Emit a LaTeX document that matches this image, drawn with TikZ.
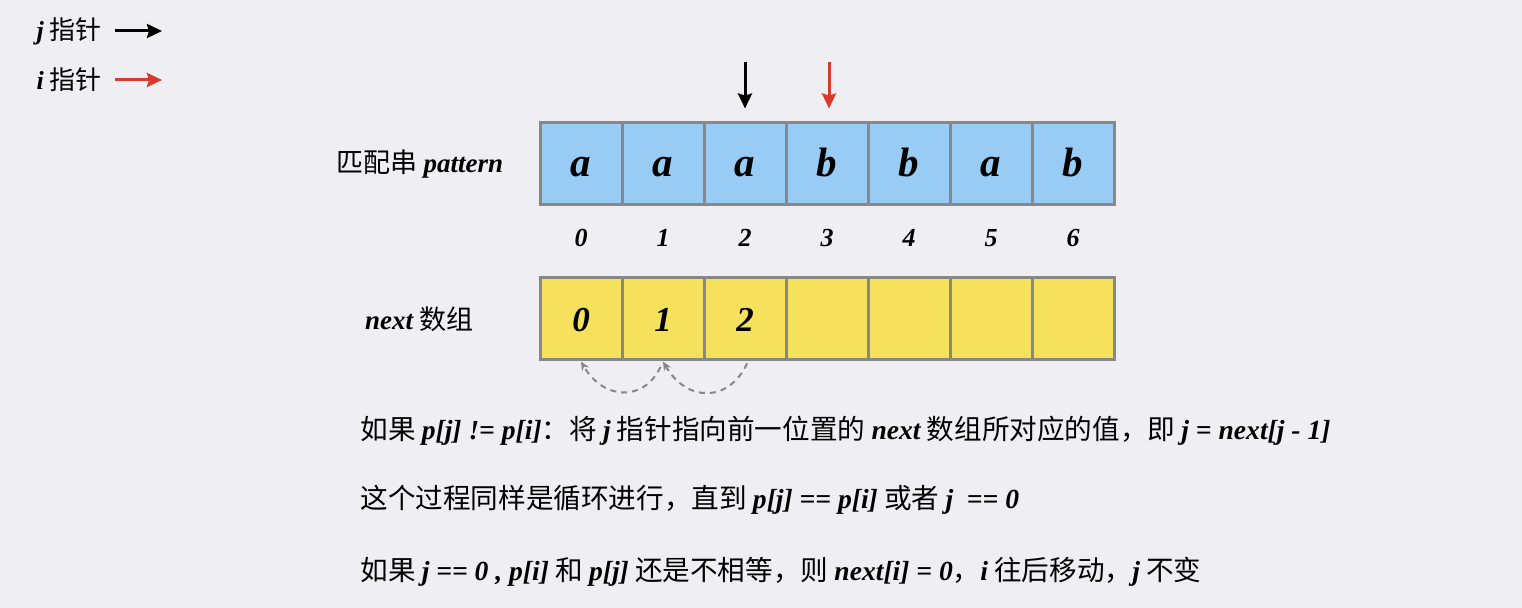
\documentclass[tikz,border=0pt]{standalone}
\usepackage{fontspec}
\setmainfont{Noto Sans CJK SC}
\newfontfamily\tms{Liberation Serif}
\usetikzlibrary{arrows.meta,positioning}

\definecolor{bgcol}{RGB}{239,238,243}
\definecolor{cellblue}{RGB}{153,204,245}
\definecolor{cellyellow}{RGB}{246,225,92}
\definecolor{cellline}{RGB}{136,136,136}
\definecolor{ptrred}{RGB}{217,58,43}
\newcommand{\vv}[1]{{\tms\bfseries\itshape #1}}

\begin{document}
\begin{tikzpicture}[x=0.5pt,y=0.5pt,>={Stealth[length=7.5pt,width=7pt,inset=1pt]},node distance=41pt,
        cell/.style={draw=cellline,line width=1.5pt,minimum width=41pt,minimum height=41pt,inner sep=0pt,
          text height=12.5pt,text depth=0pt},
        pcell/.style={cell,fill=cellblue,font=\tms\bfseries\itshape\fontsize{20.5}{20.5}\selectfont},
        ncell/.style={cell,fill=cellyellow,font=\tms\bfseries\itshape\fontsize{17.5}{17.5}\selectfont},
        idx/.style={font=\tms\bfseries\itshape\fontsize{13}{13}\selectfont},
        lab/.style={inner sep=0pt,font=\fontsize{13.5}{16}\selectfont},
        txt/.style={lab,anchor=west,font=\fontsize{13.8}{16}\selectfont},
        ptr/.style={->,line width=1.5pt},
        jump/.style={-{Stealth[length=4.5pt,width=4pt]},draw=cellline,line width=1pt,dash pattern=on 3pt off 2.5pt}]

        \fill[bgcol] (0,0) rectangle (1522,608);

        % legend
        \node[lab,anchor=east,font=\fontsize{13}{16}\selectfont] (lj) at (102,577) {\vv{j} 指针};
        \node[lab,anchor=east,font=\fontsize{13}{16}\selectfont] (li) at (102,528) {\vv{i} 指针};
        \coordinate (ljend) at (162,577);
        \coordinate (liend) at (162,528);
        \draw[ptr,shorten <=6.5pt] (lj.east |- ljend) -- (ljend);
        \draw[ptr,ptrred,shorten <=6.5pt] (li.east |- liend) -- (liend);

        % pattern
        \node[pcell] (p0) at (581,444) {a};
        \node[pcell] (p1) [right of=p0] {a};
        \node[pcell] (p2) [right of=p1] {a};
        \node[pcell] (p3) [right of=p2] {b};
        \node[pcell] (p4) [right of=p3] {b};
        \node[pcell] (p5) [right of=p4] {a};
        \node[pcell] (p6) [right of=p5] {b};
        \node[lab] (plabel) [left=17.5pt of p0] {匹配串 \vv{pattern}};

        \node[idx] (i0) at (581,370) {0};
        \node[idx] (i1) [right of=i0] {1};
        \node[idx] (i2) [right of=i1] {2};
        \node[idx] (i3) [right of=i2] {3};
        \node[idx] (i4) [right of=i3] {4};
        \node[idx] (i5) [right of=i4] {5};
        \node[idx] (i6) [right of=i5] {6};

        % next array
        \node[ncell] (n0) at (581,289) {0};
        \node[ncell] (n1) [right of=n0] {1};
        \node[ncell] (n2) [right of=n1] {2};
        \node[ncell] (n3) [right of=n2] {};
        \node[ncell] (n4) [right of=n3] {};
        \node[ncell] (n5) [right of=n4] {};
        \node[ncell] (n6) [right of=n5] {};
        \node[lab] (nlabel) [left=32.5pt of n0] {\vv{next} 数组};

        % pointers
        \coordinate (jtop) at (745,546);
        \coordinate (itop) at (829,546);
        \draw[ptr,shorten >=6.5pt] (jtop) -- (p2.north);
        \draw[ptr,ptrred,shorten >=6.5pt] (itop) -- (itop |- p3.north);

        \draw[jump,shorten <=1pt] ([xshift=1.5pt]n2.south) to[out=-115,in=-60,looseness=1.4] (n1.south);
        \draw[jump,shorten <=3pt] (n1.south) to[out=-115,in=-60,looseness=1.4] (n0.south);

        % notes
        \node[txt] (t1) at (360,177) {如果 \vv{p[j] != p[i]}：将 \vv{j} 指针指向前一位置的 \vv{next} 数组所对应的值，即 \vv{j = next[j - 1]}};
        \node[txt] (t2) at (360,108) {这个过程同样是循环进行，直到 \vv{p[j] == p[i]} 或者 \vv{j\ \ == 0}};
        \node[txt] (t3) at (360,36) {如果 \vv{j == 0 , p[i]} 和 \vv{p[j]} 还是不相等，则 \vv{next[i] = 0}，\vv{i} 往后移动，\vv{j} 不变};
      \end{tikzpicture}
\end{document}
